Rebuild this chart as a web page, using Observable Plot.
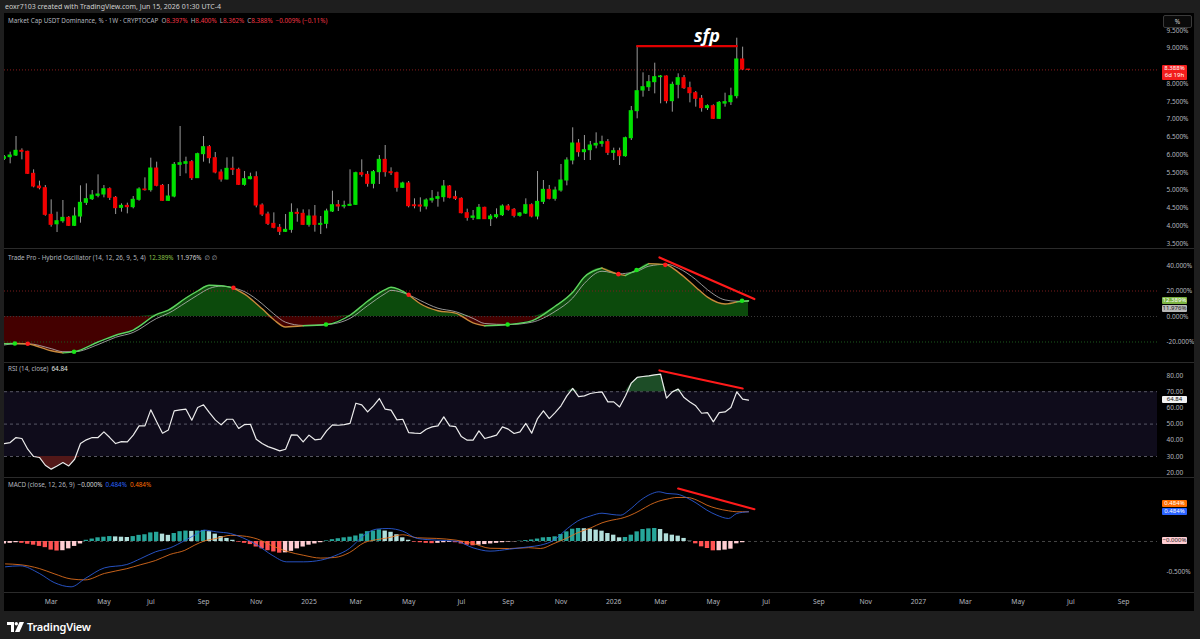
<!DOCTYPE html>
<html>
<head>
<meta charset="utf-8">
<script src="https://cdn.jsdelivr.net/npm/d3@7"></script>
<script src="https://cdn.jsdelivr.net/npm/@observablehq/plot@0.6"></script>
<style>
  html,body{margin:0;padding:0;}
  body{width:1200px;height:639px;background:#1e1e1e;position:relative;overflow:hidden;font-family:"Noto Sans",Roboto,"DejaVu Sans",sans-serif;}
  .a{position:absolute;}
  #chart{left:4px;top:13px;width:1190px;height:598px;background:#000;}
  .sep{left:4px;width:1190px;height:1px;background:#2b2b2b;}
  .leg{font-size:6.3px;color:#b2b5be;white-space:nowrap;line-height:8px;}
  .leg span{margin-right:3px;}
  .box{font-size:6px;line-height:7px;white-space:nowrap;border-radius:1px;text-align:center;}
</style>
</head>
<body>
<div class="a" id="chart"></div>
<div class="a" style="left:5px;top:2px;font-size:7px;color:#cfcfcf;white-space:nowrap;">eoxr7103 created with TradingView.com, Jun 15, 2026 01:30 UTC-4</div>
<div id="panes"></div>
<script>
// ---------------- DATA ----------------
const firstWeek = "2024-01-08"; // first weekly candle (Monday)
const opens = [5.883,5.930,5.977,6.109,6.081,5.461,5.104,5.057,4.306,4.040,
4.127,4.221,3.996,4.259,4.644,4.747,4.841,4.879,5.029,4.785,
4.503,4.559,4.522,4.729,5.020,5.001,5.611,5.123,4.700,4.822,
5.714,5.743,5.790,5.339,6.015,6.212,5.902,5.498,5.301,5.602,
5.574,5.151,5.311,5.367,4.569,4.315,4.052,3.940,3.827,3.883,
4.362,4.334,4.024,4.259,4.024,4.052,4.400,4.578,4.541,4.559,
4.588,5.480,5.433,5.179,5.508,5.855,5.508,5.480,5.067,5.189,
4.575,4.569,4.541,4.710,4.757,4.804,5.104,4.804,4.757,4.353,
4.221,4.184,4.503,4.184,4.240,4.296,4.541,4.447,4.278,4.343,
4.578,4.259,4.672,5.010,4.757,4.991,5.273,5.837,6.315,6.071,
6.127,6.259,6.306,6.353,6.052,6.099,5.958,6.465,7.226,7.808,
7.902,8.043,8.184,8.203,7.508,7.968,8.156,7.874,7.733,7.574,
7.311,7.367,7.010,7.440,7.480,7.649,8.682,8.397];
const highs = [5.977,6.071,6.513,6.165,6.099,5.574,5.254,5.132,4.728,4.381,
4.710,4.259,4.503,5.123,5.179,4.991,5.433,5.132,5.067,4.822,
4.616,4.635,4.822,5.067,5.348,5.902,5.790,5.160,5.160,5.780,
6.794,5.930,5.837,6.043,6.513,6.259,6.062,5.574,5.912,5.930,
5.621,5.527,5.480,5.517,4.616,4.381,4.362,4.034,4.315,4.616,
4.475,4.447,4.447,4.569,4.259,4.466,4.973,4.710,4.691,5.574,
5.508,5.855,5.527,5.555,5.977,6.259,5.630,5.508,5.226,5.245,
4.757,4.785,4.757,4.991,4.945,5.273,5.132,4.973,4.785,4.466,
4.428,4.597,4.522,4.315,4.475,4.588,4.597,4.484,4.372,4.757,
4.616,5.527,5.273,5.132,5.085,5.724,5.912,6.757,6.428,6.541,
6.372,6.616,6.522,6.428,6.184,6.184,6.494,7.358,9.057,8.306,
8.231,8.578,8.231,8.220,8.043,8.278,8.231,8.043,7.780,7.667,
7.404,7.404,7.498,7.733,7.874,9.282,9.029,8.400];
const lows = [5.837,5.743,5.949,5.855,5.442,5.067,5.010,4.268,3.959,3.808,
4.071,3.977,3.977,4.071,4.569,4.710,4.785,4.785,4.710,4.315,
4.381,4.334,4.475,4.691,4.973,4.945,5.095,4.691,4.691,4.785,
5.386,5.461,5.273,5.329,5.790,5.743,5.461,5.226,5.290,5.414,
5.132,5.113,5.292,4.503,4.259,4.005,3.912,3.724,3.808,3.789,
4.099,4.005,3.959,3.818,3.752,3.912,4.372,4.400,4.475,4.550,
4.570,5.367,5.085,5.038,5.160,5.367,5.414,4.945,5.050,4.503,
4.475,4.381,4.447,4.635,4.522,4.663,4.757,4.710,4.334,4.127,
4.146,4.174,4.174,3.977,4.193,4.259,4.409,4.221,4.240,4.315,
4.221,4.165,4.597,4.729,4.691,4.945,5.123,5.714,5.930,5.836,
5.836,6.165,6.212,5.977,5.836,5.695,5.930,6.400,7.010,7.620,
7.780,7.714,7.433,7.433,7.198,7.574,7.837,7.461,7.339,7.198,
7.245,6.991,6.991,7.339,7.386,7.574,8.372,8.362];
const closes = [5.930,5.977,6.109,6.081,5.461,5.104,5.057,4.306,4.024,4.127,
4.221,3.996,4.259,4.644,4.747,4.851,4.879,5.029,4.785,4.494,
4.559,4.522,4.729,5.020,5.001,5.611,5.123,4.700,4.822,5.714,
5.761,5.790,5.339,6.015,6.212,5.902,5.498,5.301,5.602,5.574,
5.151,5.311,5.367,4.569,4.315,4.052,3.940,3.827,3.883,4.362,
4.334,4.024,4.259,4.024,4.052,4.400,4.578,4.541,4.559,4.588,
5.480,5.433,5.179,5.508,5.855,5.508,5.480,5.067,5.189,4.550,
4.550,4.541,4.710,4.757,4.804,5.104,4.785,4.757,4.353,4.221,
4.259,4.503,4.184,4.259,4.296,4.541,4.447,4.278,4.343,4.578,
4.259,4.672,5.010,4.757,4.991,5.273,5.837,6.315,6.071,6.127,
6.259,6.306,6.353,6.052,6.099,5.958,6.465,7.226,7.789,7.902,
8.043,8.184,8.203,7.508,7.968,8.156,7.874,7.733,7.574,7.311,
7.367,7.010,7.461,7.480,7.649,8.682,8.397,8.388];
const lastPrice = 8.388;
const priceTicks = [3.5,4,4.5,5,5.5,6,6.5,7,7.5,8,9,9.5];

// Hybrid oscillator (week index, main line, signal line)
const oscIdx = [0,2,4,8,10,12,16,19,22,26,28,31,33,35,37,39,41,44,46,48,51,55,59,62,65,66,69,71,74,77,80,82,86,90,94,97,99,102,105,106,108,110,113,115,118,120,123,125,127];
const oscMain = [-21.4,-21.2,-21.6,-26.9,-28.5,-27.6,-20.0,-14.7,-10.6,1.6,5.0,14.5,20.0,24.5,24.2,22.5,17.5,6.0,-2.5,-8.2,-7.3,-6.3,1.0,12.0,21.0,22.9,17.0,10.0,4.5,2.7,-5.0,-7.3,-6.3,-3.4,8.0,19.0,31.0,38.0,33.0,32.2,36.5,41.5,40.5,34.8,23.0,15.2,9.8,11.5,12.389];
const oscSignal = [-22.3,-21.4,-21.4,-25.2,-27.6,-27.6,-22.0,-16.3,-12.5,-1.5,2.5,11.0,16.8,22.0,23.8,22.5,19.5,10.0,2.0,-4.5,-7.0,-6.3,-1.5,8.5,18.0,20.5,17.0,12.5,6.5,3.8,-1.5,-5.5,-6.3,-4.5,4.0,14.5,26.0,35.5,33.5,33.8,35.5,39.5,41.0,38.0,29.0,21.0,13.0,12.0,11.976];
const crossUpIdx = [1.8,11.9,54.9,85.9,107.9,125.9];
const crossUpVal = [-21.2,-27.7,-6.3,-6.3,36.5,12.4];
const crossDownIdx = [4,39.1,69,104.8,112.8];
const crossDownVal = [-21.4,22.5,17,33.2,40.5];
const oscTicks = [-20,0,20,40];

// RSI (14) weekly
const rsi = [38.0,38.6,41.7,41.1,34.5,30.0,29.4,24.6,22.2,24.2,
26.3,24.2,28.3,38.0,40.3,41.7,41.7,45.2,41.7,38.0,
39.2,39.0,43.2,48.9,48.9,58.8,51.4,44.4,46.4,58.2,
58.8,59.2,52.4,60.2,61.9,57.1,52.6,49.5,53.0,53.0,
47.3,49.7,49.9,40.7,38.0,36.1,34.9,33.5,34.5,43.4,
43.2,39.0,43.2,40.3,40.7,45.8,49.5,49.3,49.7,50.4,
62.9,61.9,57.5,61.3,65.8,59.2,58.6,52.6,53.0,44.8,
44.4,44.2,46.8,48.3,48.9,54.5,48.9,48.5,42.3,40.1,
40.1,45.8,41.1,42.1,43.2,48.3,46.9,44.2,45.2,50.4,
44.4,53.4,58.2,53.4,57.1,61.3,67.4,72.0,67.0,67.4,
68.9,69.5,69.9,63.7,63.7,60.6,67.4,75.3,78.8,79.4,
79.8,80.4,80.8,66.0,69.9,71.6,66.4,63.7,61.3,56.7,
57.1,51.4,57.1,57.5,60.2,69.9,65.4,64.84];
const rsiLevels = [70,50,30];
const rsiBand = [{lo:30, hi:70}];
const rsiTicks = [20,30,40,50,60,70,80];

// MACD (12, 26, 9)
const macdIdx = [0.2,2.7,6.0,8.5,11.4,13.8,17.1,20.9,23.3,25.8,28.3,30.8,32.4,34.1,36.2,38.6,40.7,43.2,45.7,48.2,51.1,54.0,56.4,58.9,61.4,63.5,65.5,68.0,70.5,73.8,77.1,80.0,82.9,86.2,89.5,
91.5,93.8,96.1,97.8,100.1,102.0,103.7,105.2,106.6,108.6,110.3,111.7,113.1,114.8,116.5,118.2,119.9,121.6,123.6,125.0,127];
const macdLine = [-0.412,-0.396,-0.521,-0.668,-0.738,-0.603,-0.429,-0.375,-0.277,-0.168,-0.103,0.016,0.100,0.185,0.157,0.130,0.060,-0.060,-0.223,-0.331,-0.331,-0.304,-0.233,-0.114,0.103,0.201,0.212,0.168,0.049,0.022,0.005,-0.103,-0.157,-0.125,-0.087,
-0.060,0.022,0.212,0.331,0.418,0.461,0.440,0.429,0.510,0.673,0.771,0.809,0.782,0.771,0.711,0.619,0.510,0.429,0.375,0.456,0.484];
const signalLine = [-0.365,-0.378,-0.441,-0.525,-0.610,-0.625,-0.520,-0.443,-0.377,-0.310,-0.210,-0.144,-0.063,0.008,0.050,0.100,0.090,0.040,-0.070,-0.160,-0.225,-0.270,-0.260,-0.180,-0.020,0.030,0.060,0.110,0.060,0.050,0.022,-0.033,-0.110,-0.115,-0.100,
-0.114,-0.033,0.060,0.141,0.222,0.304,0.348,0.375,0.418,0.510,0.603,0.657,0.690,0.717,0.717,0.674,0.592,0.538,0.500,0.484,0.484];
const histogram = [-0.04,-0.03,-0.02,-0.03,-0.045,-0.06,-0.08,-0.10,-0.14,-0.155,
-0.15,-0.12,-0.08,-0.04,0.02,0.04,0.06,0.07,0.08,0.075,
0.07,0.065,0.08,0.10,0.11,0.14,0.15,0.12,0.10,0.13,
0.16,0.17,0.165,0.17,0.18,0.16,0.12,0.08,0.05,0.02,
-0.01,-0.03,-0.05,-0.09,-0.12,-0.15,-0.17,-0.19,-0.185,-0.16,
-0.12,-0.09,-0.06,-0.04,-0.02,0.01,0.03,0.045,0.06,0.07,
0.09,0.12,0.16,0.17,0.19,0.17,0.15,0.11,0.06,0.02,
-0.01,-0.02,-0.03,-0.035,-0.03,-0.02,-0.015,-0.02,-0.04,-0.06,
-0.07,-0.06,-0.05,-0.04,-0.03,-0.02,-0.01,-0.005,0.005,0.015,
0.025,0.04,0.06,0.065,0.076,0.114,0.157,0.20,0.212,0.208,
0.20,0.185,0.168,0.13,0.103,0.06,0.065,0.103,0.157,0.195,
0.206,0.212,0.195,0.125,0.103,0.087,0.05,0.005,-0.038,-0.087,
-0.114,-0.152,-0.15,-0.14,-0.125,-0.038,-0.02,-0.0003];
const macdTicks = [-0.5];

// drawn annotations (week index, value)
const sfpLine = [{i:108, v:9.057},{i:125, v:9.057}];
const sfpLabel = [{i:119.9, v:9.34, text:"sfp"}];
const oscDivergence = [{i:111.8, v:46.3},{i:128.0, v:13.7}];
const rsiDivergence = [{i:111.8, v:83.1},{i:126.0, v:72.0}];
const macdDivergence = [{i:115.0, v:0.863},{i:128.0, v:0.526}];

// time axis labels
const timeTickDates = ["2024-03-04","2024-05-06","2024-07-01","2024-09-02","2024-11-04","2025-01-06","2025-03-03","2025-05-05","2025-07-07","2025-09-01","2025-11-03","2026-01-05","2026-03-02","2026-05-04","2026-07-06","2026-09-07","2026-11-02","2027-01-04","2027-03-01","2027-05-03","2027-07-05","2027-09-06"];
const timeTickLabels = ["Mar","May","Jul","Sep","Nov","2025","Mar","May","Jul","Sep","Nov","2026","Mar","May","Jul","Sep","Nov","2027","Mar","May","Jul","Sep"];

// ---------------- BUILD ----------------
const WEEK = 7*864e5, DAY = 864e5;
const t0 = Date.parse(firstWeek + "T00:00:00Z");
const dt = i => new Date(t0 + i*WEEK);

const FONT = '"Noto Sans",Roboto,sans-serif';
const common = {
  width: 1190, marginLeft: 0, marginRight: 37, marginTop: 0, marginBottom: 0,
  color: {type: "identity"},
  style: {background: "transparent", color: "#b2b5be", fontSize: "6.5px", fontFamily: FONT}
};
const xOpt = () => ({type: "utc", domain: [dt(0), dt(127)], range: [-0.2, 744.0], axis: null});
const GREEN = "#00e000", RED = "#f20000";

const candles = closes.map((c, i) => ({date: dt(i), open: opens[i], high: highs[i], low: lows[i], close: c}));

const mainPlot = Plot.plot({
  ...common, height: 234,
  x: xOpt(), y: {domain: [3.358, 9.949], label: null},
  marks: [
    Plot.ruleY([lastPrice], {stroke: "#8a1b1b", strokeDasharray: "1,2", strokeWidth: 1}),
    Plot.ruleX(candles, {x: "date", y1: "low", y2: "high", stroke: "#9a9a9a", strokeWidth: 1, clip: true}),
    Plot.rect(candles, {
      x1: d => new Date(+d.date - 2.5*DAY), x2: d => new Date(+d.date + 2.5*DAY),
      y1: d => Math.min(d.open, d.close), y2: d => Math.max(d.open, d.close),
      insetTop: -0.5, insetBottom: -0.5,
      fill: d => d.close >= d.open ? GREEN : RED, clip: true
    }),
    Plot.line(sfpLine, {x: d => dt(d.i), y: "v", stroke: "#e00000", strokeWidth: 2.2}),
    Plot.text(sfpLabel, {x: d => dt(d.i), y: "v", text: "text", fill: "#ffffff", fontSize: 18, fontWeight: "bold", fontStyle: "italic", fontFamily: '"Open Sans",sans-serif'}),
    Plot.axisY(priceTicks, {anchor: "right", tickSize: 0, tickPadding: 9, label: null, tickFormat: d => d.toFixed(3) + "%"})
  ]
});

const osc = oscIdx.map((i, k) => ({date: dt(i), main: oscMain[k], sig: oscSignal[k]}));
const runs = []; let run = null;
osc.forEach(d => {
  const c = d.main >= d.sig ? "#5fd35f" : "#c98a3c";
  if (!run || run.c !== c) { const nr = {c, pts: []}; if (run) nr.pts.push(run.pts[run.pts.length - 1]); runs.push(nr); run = nr; }
  run.pts.push(d);
});
const oscSegs = runs.flatMap((r, ri) => r.pts.map(p => ({...p, run: ri, c: r.c})));
const upDots = crossUpIdx.map((i, k) => ({date: dt(i), v: crossUpVal[k]}));
const downDots = crossDownIdx.map((i, k) => ({date: dt(i), v: crossDownVal[k]}));

const oscPlot = Plot.plot({
  ...common, height: 113,
  x: xOpt(), y: {domain: [-36.08, 52.55], label: null},
  marks: [
    Plot.areaY(osc, {x: "date", y1: 0, y2: d => Math.max(0, d.main), fill: "#0c4a0c", curve: "monotone-x", clip: true}),
    Plot.areaY(osc, {x: "date", y1: 0, y2: d => Math.min(0, d.main), fill: "#440000", curve: "monotone-x", clip: true}),
    Plot.ruleY([20], {stroke: "#7a1c1c", strokeDasharray: "1,2"}),
    Plot.ruleY([0], {stroke: "#3a3a3a", strokeDasharray: "1,2"}),
    Plot.ruleY([-20], {stroke: "#1c5a1c", strokeDasharray: "1,2"}),
    Plot.line(osc, {x: "date", y: "sig", stroke: "#bdbdbd", strokeWidth: 0.8, curve: "monotone-x", clip: true}),
    Plot.line(oscSegs, {x: "date", y: "main", z: "run", stroke: "c", strokeWidth: 1.4, curve: "monotone-x", clip: true}),
    Plot.dot(upDots, {x: "date", y: "v", r: 2.3, fill: "#19e619"}),
    Plot.dot(downDots, {x: "date", y: "v", r: 2.3, fill: "#ff1a1a"}),
    Plot.line(oscDivergence, {x: d => dt(d.i), y: "v", stroke: "#ff1a1a", strokeWidth: 2.2}),
    Plot.axisY(oscTicks, {anchor: "right", tickSize: 0, tickPadding: 9, label: null, tickFormat: d => d.toFixed(3) + "%"})
  ]
});

const rsiData = rsi.map((v, i) => ({date: dt(i), v}));
const rsiPlot = Plot.plot({
  ...common, height: 114,
  x: xOpt(), y: {domain: [17.04, 87.41], label: null},
  marks: [
    Plot.rect(rsiBand, {y1: "lo", y2: "hi", fill: "#0f0c1b"}),
    Plot.ruleY(rsiLevels, {stroke: "#6b6b78", strokeDasharray: "3,3", strokeWidth: 0.8}),
    Plot.areaY(rsiData, {x: "date", y1: 70, y2: d => Math.max(70, d.v), fill: "#1d4d27", clip: true}),
    Plot.areaY(rsiData, {x: "date", y1: d => Math.min(30, d.v), y2: 30, fill: "#521818", clip: true}),
    Plot.line(rsiData, {x: "date", y: "v", stroke: "#ececec", strokeWidth: 1.2, clip: true}),
    Plot.line(rsiDivergence, {x: d => dt(d.i), y: "v", stroke: "#ff1a1a", strokeWidth: 2.2}),
    Plot.axisY(rsiTicks, {anchor: "right", tickSize: 0, tickPadding: 9, label: null, tickFormat: d => d.toFixed(2)})
  ]
});

const histData = histogram.map((h, i) => {
  const prev = i > 0 ? histogram[i - 1] : h;
  const col = h >= 0 ? (h >= prev ? "#26a69a" : "#b2dfdb") : (h < prev ? "#ff5252" : "#ffcdd2");
  return {date: dt(i), h, col};
});
const macdData = macdIdx.map((i, k) => ({date: dt(i), m: macdLine[k], s: signalLine[k]}));
const macdPlot = Plot.plot({
  ...common, height: 114,
  x: xOpt(), y: {domain: [-0.8306, 1.026], label: null},
  marks: [
    Plot.ruleY([0], {stroke: "#555", strokeDasharray: "3,3", strokeWidth: 0.8}),
    Plot.rect(histData, {x1: d => new Date(+d.date - 2.6*DAY), x2: d => new Date(+d.date + 2.6*DAY), y1: 0, y2: "h", fill: "col", clip: true}),
    Plot.line(macdData, {x: "date", y: "s", stroke: "#e8721f", strokeWidth: 1, strokeOpacity: 0.85, curve: "monotone-x", clip: true}),
    Plot.line(macdData, {x: "date", y: "m", stroke: "#2d5fe0", strokeWidth: 1, strokeOpacity: 0.85, curve: "monotone-x", clip: true}),
    Plot.line(macdDivergence, {x: d => dt(d.i), y: "v", stroke: "#ff1a1a", strokeWidth: 2.2}),
    Plot.axisY(macdTicks, {anchor: "right", tickSize: 0, tickPadding: 9, label: null, tickFormat: d => d.toFixed(3) + "%"})
  ]
});

const timeTicks = timeTickDates.map((d, k) => ({date: new Date(d + "T00:00:00Z"), label: timeTickLabels[k]}));
const timePlot = Plot.plot({
  ...common, height: 17,
  x: xOpt(),
  marks: [Plot.text(timeTicks, {x: "date", text: "label", fill: "#b2b5be", fontSize: 6.8})]
});

// ---------------- LAYOUT ----------------
const panes = document.getElementById("panes");
function put(node, left, top) { node.style.position = "absolute"; node.style.left = left + "px"; node.style.top = top + "px"; panes.appendChild(node); return node; }
put(mainPlot, 4, 14);
put(oscPlot, 4, 249);
put(rsiPlot, 4, 363);
put(macdPlot, 4, 478);
put(timePlot, 4, 593);
[248, 362, 477, 592].forEach(y => { const s = document.createElement("div"); s.className = "a sep"; put(s, 4, y); });

function html(str, left, top, cls, style) {
  const d = document.createElement("div"); d.className = "a " + (cls || ""); d.innerHTML = str;
  if (style) d.setAttribute("style", style);
  return put(d, left, top);
}
function box(text, cy, bg, fg, h) {
  h = h || 7;
  return html(text, 1162, Math.round(cy - h/2), "box", `width:25px;height:${h}px;background:${bg};color:${fg};`);
}

// legends
const R = "#f23645";
html(`<span>Market Cap USDT Dominance, % · 1W · CRYPTOCAP</span><span>O<b style="color:${R};font-weight:normal">8.397%</b></span><span>H<b style="color:${R};font-weight:normal">8.400%</b></span><span>L<b style="color:${R};font-weight:normal">8.362%</b></span><span>C<b style="color:${R};font-weight:normal">8.388%</b></span><span style="color:${R}">−0.009% (−0.11%)</span>`, 8, 17, "leg");
html(`<span>Trade Pro - Hybrid Oscillator (14, 12, 26, 9, 5, 4)</span><span style="color:#8bc34a">12.389%</span><span style="color:#d0d0d0">11.976%</span><span>∅ ∅</span>`, 8, 254, "leg");
html(`<span>RSI (14, close)</span><span style="color:#e6e6e6">64.84</span>`, 8, 365, "leg");
html(`<span>MACD (close, 12, 26, 9)</span><span style="color:#d8d8d8">−0.000%</span><span style="color:#2962ff">0.484%</span><span style="color:#ff6d00">0.484%</span>`, 8, 481, "leg");

// price-axis value boxes (positions from the plots' own scales)
const yM = mainPlot.scale("y"), yO = oscPlot.scale("y"), yR = rsiPlot.scale("y"), yD = macdPlot.scale("y");
const pc = 14 + yM.apply(lastPrice);
html(`${lastPrice.toFixed(3)}%<br>6d 19h`, 1162, Math.round(pc - 4), "box", "width:25px;height:15px;background:#f21d1d;color:#fff;");
const og = 249 + yO.apply(oscMain[oscMain.length - 1]);
box(oscMain[oscMain.length - 1].toFixed(3) + "%", og, "#7cb342", "#fff");
box(oscSignal[oscSignal.length - 1].toFixed(3) + "%", og + 8, "#b8b8b8", "#222");
box(rsi[rsi.length - 1].toFixed(2), 363 + yR.apply(rsi[rsi.length - 1]), "#f2f2f2", "#111");
const mb = 478 + yD.apply(macdLine[macdLine.length - 1]);
box(macdLine[macdLine.length - 1].toFixed(3) + "%", mb, "#2962ff", "#fff");
box(signalLine[signalLine.length - 1].toFixed(3) + "%", mb - 8, "#ff6d00", "#fff");
box("−0.000%", 478 + yD.apply(0), "#ffcdd2", "#222");

// "%" button
html("%", 1163, 15, "", "width:27px;height:11px;border:1px solid #3a3a3a;border-radius:2px;background:#0a0a0a;color:#d0d0d0;font-size:6.5px;line-height:11px;text-align:center;");

// footer logo
html(`<svg width="17" height="10" viewBox="0 0 17 10" style="vertical-align:-1px;margin-right:3px"><path d="M0 0h7v10H4V3H0z" fill="#fff"/><circle cx="9.3" cy="1.8" r="1.7" fill="#fff"/><path d="M12.5 0H17l-4.5 10H8z" fill="#fff"/></svg>TradingView`, 7, 619, "", "font-size:11px;color:#fff;font-weight:600;white-space:nowrap;letter-spacing:-0.2px;");
</script>
</body>
</html>
